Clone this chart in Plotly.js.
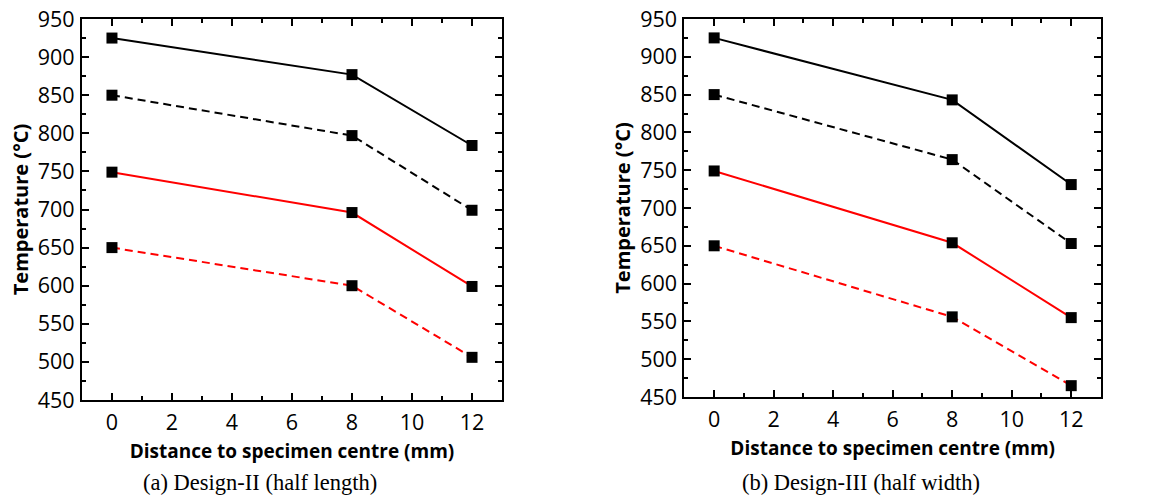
<!DOCTYPE html>
<html><head><meta charset="utf-8">
<script src="https://cdn.plot.ly/plotly-3.0.1.min.js"></script>
<style>html,body{margin:0;padding:0;background:#fff}#chart{width:1161px;height:500px}</style>
</head><body><div id="chart"></div>
<script>
const distance = [0, 8, 12];
// (a) Design-II (half length)
const a_black_solid = [925, 877, 784];
const a_black_dash  = [850, 797, 699];
const a_red_solid   = [749, 696, 599];
const a_red_dash    = [650, 600, 506];
// (b) Design-III (half width)
const b_black_solid = [925, 843, 731];
const b_black_dash  = [850, 764, 653];
const b_red_solid   = [749, 654, 555];
const b_red_dash    = [650, 556, 465];

const xTitle = 'Distance to specimen centre (mm)';
const yTitle = 'Temperature (°C)';
const captions = ['(a) Design-II (half length)', '(b) Design-III (half width)'];

function tr(y, color, dash, xa, ya) {
  return {x: distance, y: y, xaxis: xa, yaxis: ya, type: 'scatter', mode: 'lines+markers',
    line: {color: color, width: 2, dash: dash},
    marker: {symbol: 'square', size: 11, color: '#000'}, showlegend: false, cliponaxis: false};
}
const D = '8px,5px';
const data = [
  tr(a_black_solid, '#000', 'solid', 'x', 'y'),
  tr(a_black_dash, '#000', D, 'x', 'y'),
  tr(a_red_solid, '#ff0000', 'solid', 'x', 'y'),
  tr(a_red_dash, '#ff0000', D, 'x', 'y'),
  tr(b_black_solid, '#000', 'solid', 'x2', 'y2'),
  tr(b_black_dash, '#000', D, 'x2', 'y2'),
  tr(b_red_solid, '#ff0000', 'solid', 'x2', 'y2'),
  tr(b_red_dash, '#ff0000', D, 'x2', 'y2'),
];
const tickFont = {family: 'Open Sans, sans-serif', size: 21.5, color: '#000'};
function xax(dom) {
  return {domain: dom, range: [-1, 13], tickmode: 'array', tickvals: [0,2,4,6,8,10,12],
    ticks: 'inside', ticklen: 7, tickwidth: 2, tickcolor: '#000',
    minor: {ticks: 'inside', ticklen: 4, tickwidth: 2, dtick: 1, tick0: 0, tickcolor: '#000'},
    showline: true, linewidth: 2, linecolor: '#000', mirror: 'ticks', showgrid: false, zeroline: false,
    tickfont: tickFont, ticklabelstandoff: 2,
    title: {text: '<b>' + xTitle + '</b>', font: {family: 'Open Sans, sans-serif', size: 19, color: '#000'}, standoff: 10}};
}
function yax(dom, anchor) {
  return {domain: dom, anchor: anchor, range: [450, 950], dtick: 50, tick0: 450,
    ticks: 'inside', ticklen: 7, tickwidth: 2, tickcolor: '#000',
    minor: {ticks: 'inside', ticklen: 4, tickwidth: 2, dtick: 25, tick0: 450, tickcolor: '#000'},
    showline: true, linewidth: 2, linecolor: '#000', mirror: 'ticks', showgrid: false, zeroline: false,
    tickfont: tickFont, ticklabelstandoff: 1,
    title: {text: '<b>' + yTitle + '</b>', font: {family: 'Open Sans, sans-serif', size: 20, color: '#000'}, standoff: 4}};
}
const capFont = {family: 'Liberation Serif, Times New Roman, serif', size: 22.5, color: '#000'};
const layout = {
  width: 1161, height: 500, margin: {l: 0, r: 0, t: 0, b: 0},
  paper_bgcolor: '#fff', plot_bgcolor: '#fff',
  xaxis: Object.assign(xax([0.0706, 0.4324]), {anchor: 'y'}),
  yaxis: yax([0.2, 0.962], 'x'),
  xaxis2: Object.assign(xax([0.5895, 0.9483]), {anchor: 'y2'}),
  yaxis2: yax([0.206, 0.962], 'x2'),
  annotations: [
    {text: captions[0], xref: 'paper', yref: 'paper', x: 260/1161, y: 1 - 482/500, showarrow: false,
     xanchor: 'center', yanchor: 'middle', font: capFont},
    {text: captions[1], xref: 'paper', yref: 'paper', x: 861/1161, y: 1 - 482/500, showarrow: false,
     xanchor: 'center', yanchor: 'middle', font: capFont},
  ]
};
Plotly.newPlot('chart', data, layout, {displayModeBar: false, staticPlot: true});
</script></body></html>
